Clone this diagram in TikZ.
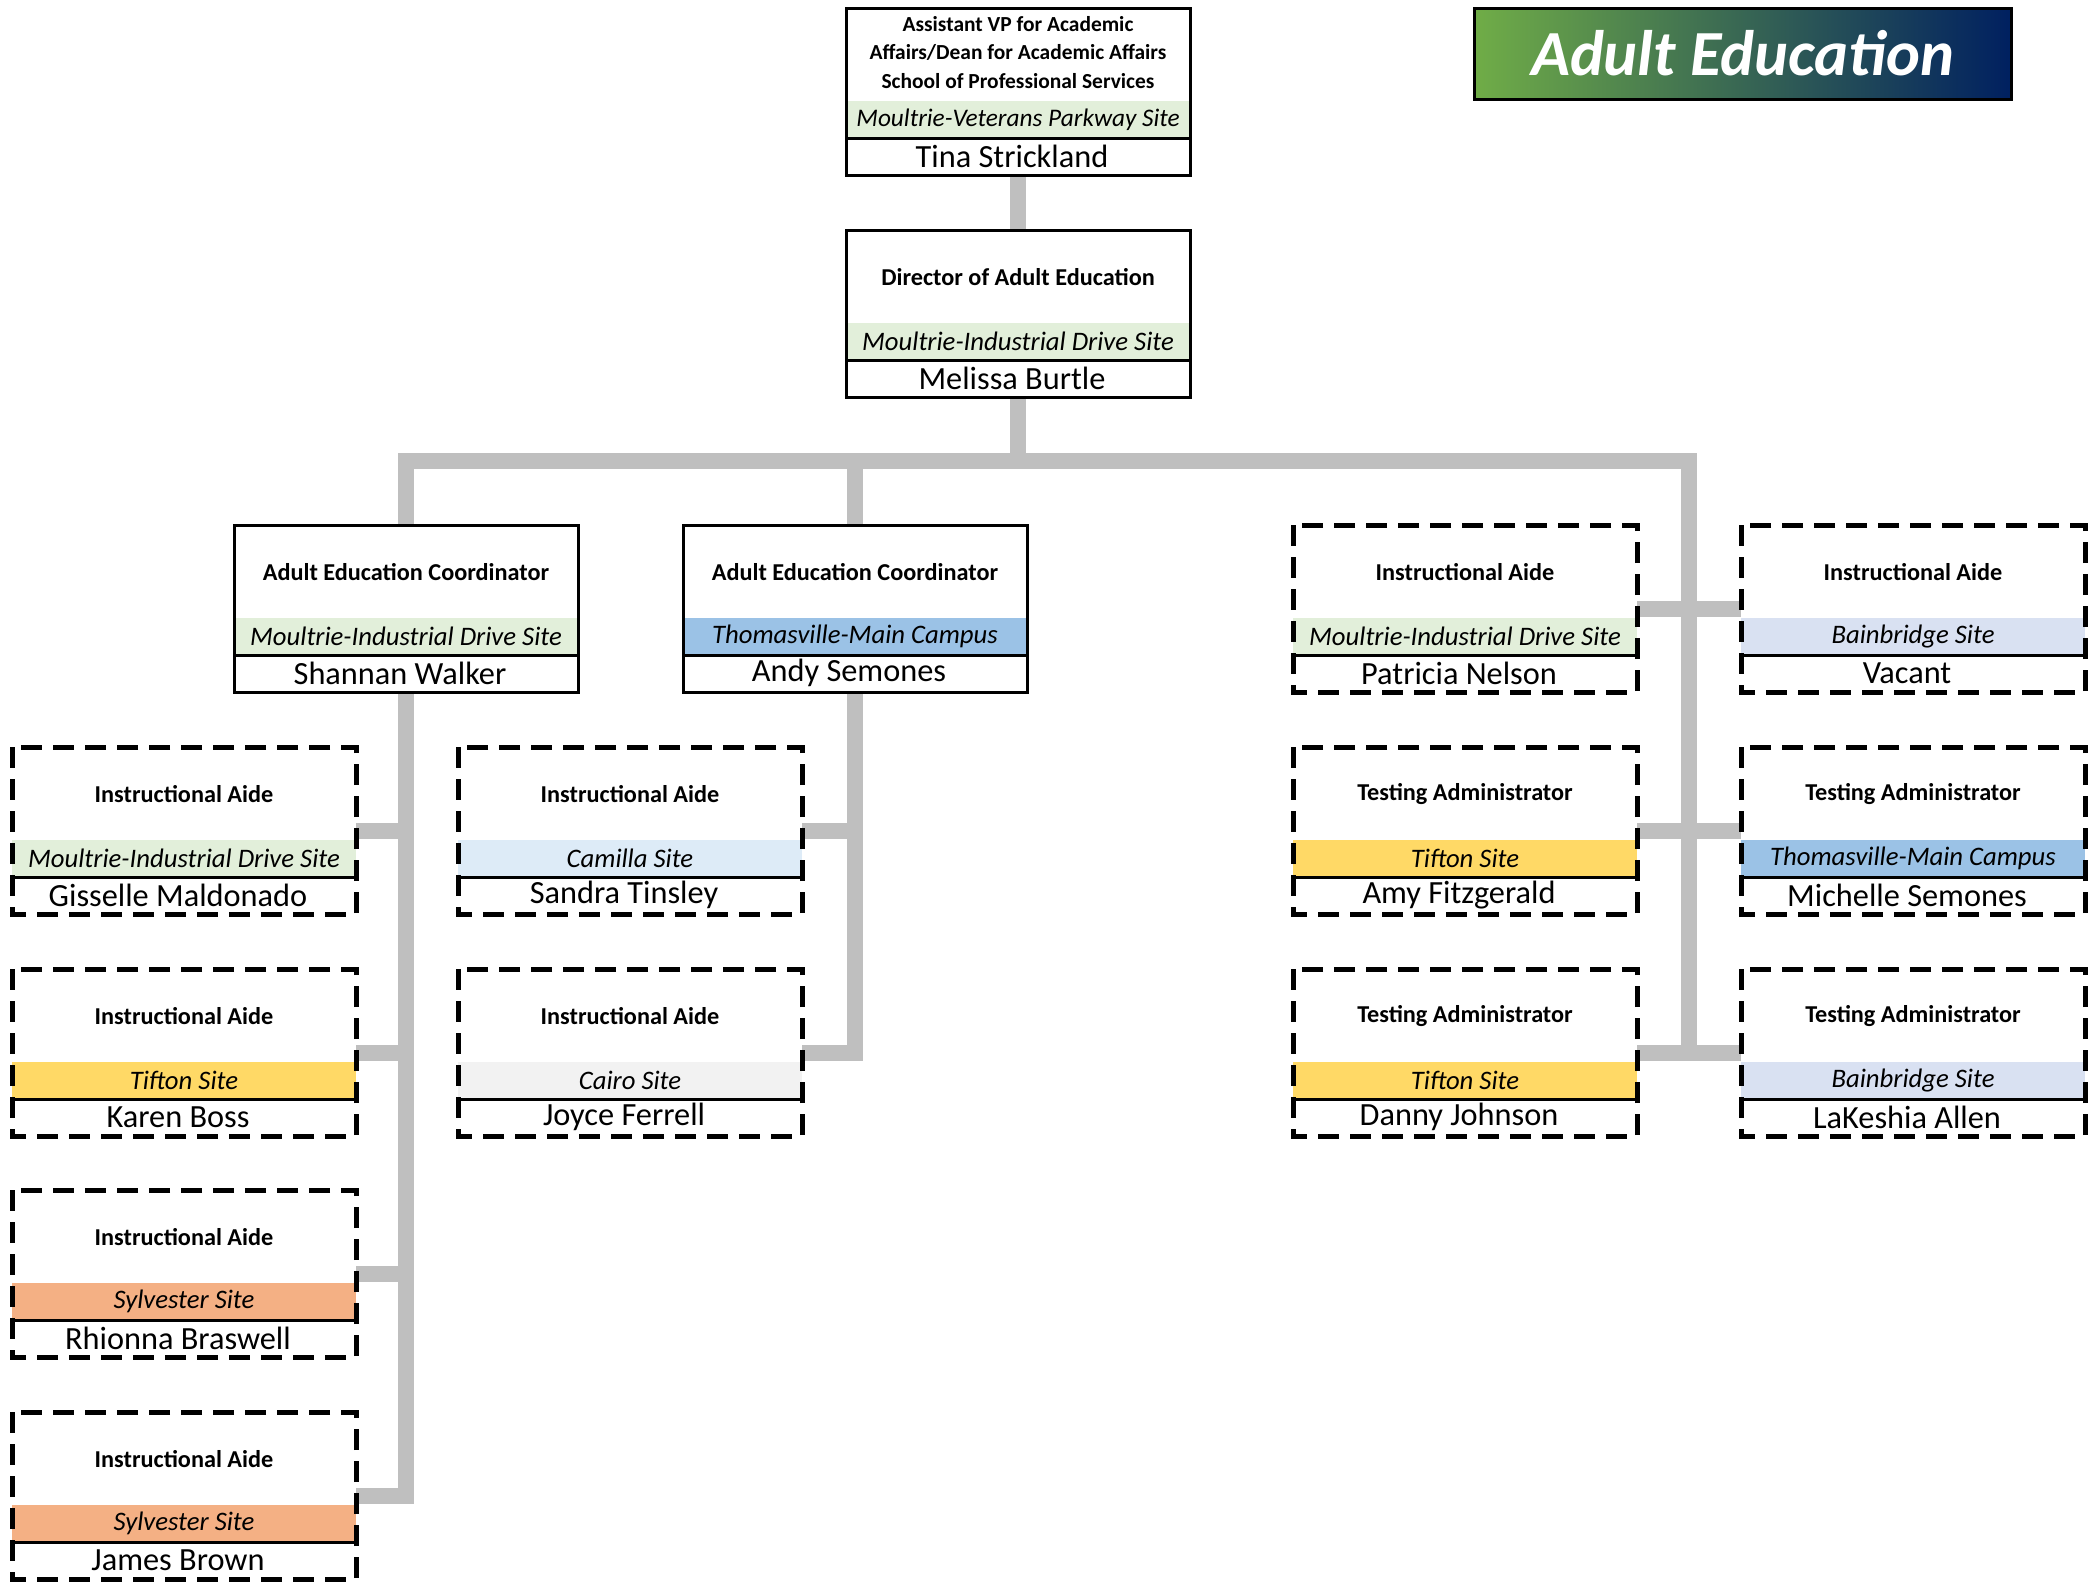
\documentclass[tikz,border=0pt]{standalone}
\usepackage{fontspec}
\setmainfont{Carlito}
\usetikzlibrary{calc,backgrounds}

\begin{document}
\begin{tikzpicture}[
    x=0.1mm, y=-0.1mm,               % 1 drawing unit = 1 px of the chart, y downwards
    ttl/.style={font=\bfseries\fontsize{6.9}{8.1}\selectfont,align=center,inner sep=0pt},
    site/.style={font=\itshape\fontsize{7.6}{8}\selectfont,inner sep=0pt},
    who/.style={font=\fontsize{9.2}{10}\selectfont,inner sep=0pt},
    solidfrm/.style={draw=black,line width=0.3mm},
    dashfrm/.style={draw=black,line width=0.5mm,dash pattern=on 2.1mm off 1.1mm},
    sep/.style={draw=black,line width=0.3mm},
    link/.style={draw=linkgray,line width=1.6mm},
    hdr/.style={draw=black,line width=0.3mm,left color=hdrGreen,right color=hdrNavy,
                minimum width=53.7mm,minimum height=9.1mm,text=white,
                font=\bfseries\itshape\fontsize{18.3}{22}\selectfont},
  ]
  \definecolor{linkgray}{RGB}{191,191,191}
  \definecolor{siteGreen}{RGB}{226,239,218}
  \definecolor{siteBlue}{RGB}{155,194,230}
  \definecolor{sitePale}{RGB}{221,235,247}
  \definecolor{siteGold}{RGB}{255,217,102}
  \definecolor{siteOrange}{RGB}{244,176,132}
  \definecolor{siteGray}{RGB}{242,242,242}
  \definecolor{siteLav}{RGB}{217,225,242}
  \definecolor{hdrGreen}{RGB}{112,173,71}
  \definecolor{hdrNavy}{RGB}{0,32,96}

  \useasboundingbox (0,0) rectangle (2095,1583);

  %% ---------------- one position box ----------------
  % title / coloured site band / name, top-left corner at (#4,#5)
  \newcommand{\orgbox}[9][]{%
    \node[anchor=north west,minimum width=34.4mm,minimum height=16.7mm,inner sep=0pt,outer sep=0pt] (#2) at (#4,#5) {};
    \fill[#7] ($(#2.north west)+(0,93)$) rectangle ($(#2.north east)+(0,130)$);
    \draw[#3] (#2.north west) rectangle (#2.south east);
    \draw[sep] ($(#2.north west)+(0,130)$) -- ($(#2.north east)+(0,130)$);
    \node[ttl,#1] (#2-t) at ($(#2.north)+(0,47)$) {#6};
    \node[site] (#2-s) at ($(#2.north)+(0,111.5)$) {#8};
    \node[who] (#2-n) at ($(#2.north)+(-6,148)$) {#9};}

  %% ---------------- header ----------------
  \node[hdr] (hdr) at (1742.5,53.5) {Adult Education};

  %% ---------------- management ----------------
  \orgbox[font=\bfseries\fontsize{6.1}{8.1}\selectfont,yshift=0.25mm]{tina}{solidfrm}{846}{8}
    {Assistant VP for Academic\\ Affairs/Dean for Academic Affairs\\ School of Professional Services}
    {siteGreen}{\fontsize{7.2}{8}\selectfont Moultrie-Veterans Parkway Site}{Tina Strickland}
  \orgbox{dir}{solidfrm}{846}{230}{Director of Adult Education}{siteGreen}{Moultrie-Industrial Drive Site}{Melissa Burtle}
  \orgbox{shan}{solidfrm}{234}{525}{Adult Education Coordinator}{siteGreen}{Moultrie-Industrial Drive Site}{Shannan Walker}
  \orgbox{andy}{solidfrm}{683}{525}{Adult Education Coordinator}{siteBlue}{Thomasville-Main Campus}{Andy Semones}

  %% ---------------- staff (dashed) ----------------
  \foreach \n/\x/\y/\t/\c/\s/\p in {
      gis/12/747/Instructional Aide/siteGreen/Moultrie-Industrial Drive Site/Gisselle Maldonado,
      kar/12/969/Instructional Aide/siteGold/Tifton Site/Karen Boss,
      rhi/12/1190/Instructional Aide/siteOrange/Sylvester Site/Rhionna Braswell,
      jam/12/1412/Instructional Aide/siteOrange/Sylvester Site/James Brown,
      san/458/747/Instructional Aide/sitePale/Camilla Site/Sandra Tinsley,
      joy/458/969/Instructional Aide/siteGray/Cairo Site/Joyce Ferrell,
      pat/1293/525/Instructional Aide/siteGreen/Moultrie-Industrial Drive Site/Patricia Nelson,
      amy/1293/747/Testing Administrator/siteGold/Tifton Site/Amy Fitzgerald,
      dan/1293/969/Testing Administrator/siteGold/Tifton Site/Danny Johnson,
      vac/1741/525/Instructional Aide/siteLav/Bainbridge Site/Vacant,
      mic/1741/747/Testing Administrator/siteBlue/Thomasville-Main Campus/Michelle Semones,
      les/1741/969/Testing Administrator/siteLav/Bainbridge Site/LaKeshia Allen}
    {\orgbox{\n}{dashfrm}{\x}{\y}{\t}{\c}{\s}{\p}}

  %% ---------------- connectors ----------------
  \begin{scope}[on background layer]
    \draw[link] (tina.south) -- (dir.north);
    \coordinate (bus) at ($(dir.south)+(0,64)$);
    \draw[link] (dir.south) -- (bus) -| (shan.north);
    \draw[link] (bus) -| (andy.north);
    \draw[link] (bus) -| ($(dan.north east)!.5!(les.north west)+(0,84)$);
    \foreach \a in {gis,kar,rhi,jam}{\draw[link] (shan.south) |- ($(\a.north east)+(0,84)$);}
    \foreach \a in {san,joy}{\draw[link] (andy.south) |- ($(\a.north east)+(0,84)$);}
    \foreach \a/\b in {pat/vac,amy/mic,dan/les}{
      \draw[link] ($(\a.north east)+(0,84)$) -- ($(\b.north west)+(0,84)$);}
  \end{scope}
\end{tikzpicture}
\end{document}
